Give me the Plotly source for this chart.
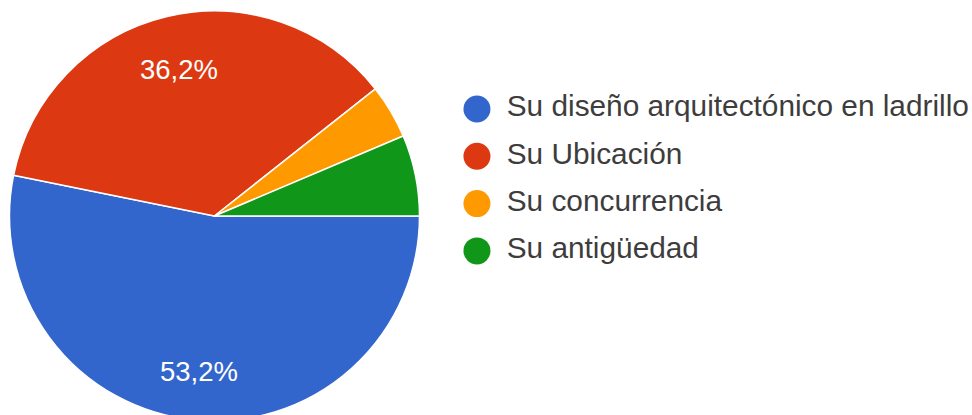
import math
import plotly.graph_objects as go

# Survey answers (47 responses)
categories = [
    "Su diseño arquitectónico en ladrillo",
    "Su Ubicación",
    "Su concurrencia",
    "Su antigüedad",
]
counts = [25, 17, 2, 3]
colors = ["#3366cc", "#dc3912", "#ff9900", "#109618"]

W, H = 972, 425

# pie placement in pixels
PIE_CX, PIE_CY, PIE_R = 214.5, 216.0, 205.0
LABEL_RADIUS = 0.75          # fraction of the radius where slice labels sit
MIN_LABEL_SHARE = 0.10       # slices smaller than this stay unlabelled

fig = go.Figure()

fig.add_trace(go.Pie(
    labels=categories,
    values=counts,
    sort=False,
    direction="clockwise",
    rotation=90,
    marker=dict(colors=colors, line=dict(color="white", width=1.5)),
    textinfo="none",
    domain=dict(x=[(PIE_CX - PIE_R) / W, (PIE_CX + PIE_R) / W],
                y=[(H - PIE_CY - PIE_R) / H, (H - PIE_CY + PIE_R) / H]),
    showlegend=False,
    hoverinfo="skip",
))

# percentage labels, placed on each slice's mid-angle
total = sum(counts)
start = 0.0  # degrees clockwise from 3 o'clock
annotations = []
for n in counts:
    share = n / total
    sweep = share * 360.0
    mid = math.radians(start + sweep / 2)
    start += sweep
    if share < MIN_LABEL_SHARE:
        continue
    px = PIE_CX + LABEL_RADIUS * PIE_R * math.cos(mid)
    py = PIE_CY + LABEL_RADIUS * PIE_R * math.sin(mid)
    annotations.append(dict(
        x=px / W, y=1 - py / H, xref="paper", yref="paper",
        text=f"{share * 100:.1f}".replace(".", ",") + "%",
        showarrow=False, xanchor="center", yanchor="middle", yshift=-3,
        font=dict(family="Liberation Sans, Arial, sans-serif", size=27.5, color="white"),
    ))

# legend: round swatches with the category names beside them
rows = list(range(len(categories)))
fig.add_trace(go.Scatter(
    x=[0.074] * len(categories), y=rows,
    mode="markers",
    marker=dict(symbol="circle", size=27, color=colors),
    showlegend=False, hoverinfo="skip", cliponaxis=False,
))
fig.add_trace(go.Scatter(
    x=[0.1297] * len(categories), y=rows,
    mode="text",
    text=categories,
    textposition="middle right",
    textfont=dict(family="Liberation Sans, Arial, sans-serif", size=29.8, color="#3d3d3d"),
    showlegend=False, hoverinfo="skip", cliponaxis=False,
))

fig.update_layout(
    width=W,
    height=H,
    margin=dict(l=0, r=0, t=0, b=0),
    paper_bgcolor="white",
    plot_bgcolor="white",
    annotations=annotations,
    xaxis=dict(domain=[0.45, 1.0], range=[0, 1], visible=False, fixedrange=True),
    yaxis=dict(range=[6.681, -2.304], visible=False, fixedrange=True),
)

fig.write_html(
    "out.html",
    config={"displayModeBar": False, "staticPlot": True},
    post_script="document.documentElement.style.overflow='hidden';document.body.style.overflow='hidden';",
)
